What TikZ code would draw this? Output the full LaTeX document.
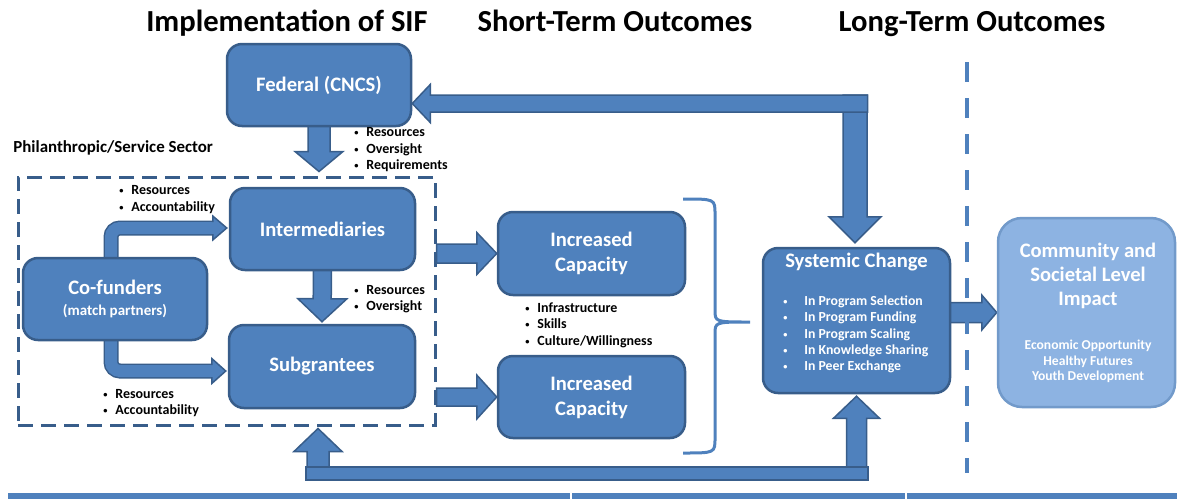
\documentclass[tikz,border=0pt]{standalone}
\usepackage{fontspec}
\setmainfont{Carlito}
\usetikzlibrary{calc,backgrounds}
\definecolor{bfill}{HTML}{4F81BD}
\definecolor{bdraw}{HTML}{385D8A}
\definecolor{cfill}{HTML}{8DB3E2}
\definecolor{cdraw}{HTML}{729ACA}
\newcommand\fsz[2]{\fontsize{#1}{#2}\selectfont}
\newcommand\smbul{\raisebox{0.15ex}{\scalebox{0.6}{\textbullet}}}
\newcommand\bl{\makebox[6pt][l]{\smbul}}
\newcommand\sbl{\makebox[10.5pt][l]{\smbul}}
% straight block arrow: #1 start, #2 tip, #3 shaft half width, #4 head half width, #5 head length
\newcommand\blockarr[5]{%
  \coordinate (hb) at ($(#2)!#5!(#1)$);
  \draw[blkarrow] ($(#1)!#3!90:(#2)$) -- ($(hb)!#3!-90:(#1)$) -- ($(hb)!#4!-90:(#1)$) -- (#2)
     -- ($(hb)!#4!90:(#1)$) -- ($(hb)!#3!90:(#1)$) -- ($(#1)!#3!-90:(#2)$) -- cycle;}
\begin{document}
\begin{tikzpicture}[x=0.5pt,y=-0.5pt,
  box/.style={draw=bdraw, fill=bfill, line width=1.25pt, rounded corners=7.5pt, inner sep=0pt,
    text=white, font=\bfseries\fsz{10.3}{12.5}, align=center},
  blkarrow/.style={draw=bdraw, fill=bfill, line width=0.75pt, line join=miter},
  bul/.style={inner sep=0pt, anchor=west, align=left, font=\bfseries\fsz{7}{8.25}},
  ttl/.style={font=\bfseries\fsz{15.3}{17}, anchor=base, inner sep=0pt},
  wtxt/.style={text=white, inner sep=0pt, align=center},
]
\useasboundingbox (0,0) rectangle (1177,499);

% titles
\node[ttl] (t1) at (287,31) {Implementation of SIF};
\node[ttl] (t2) at (615,31) {Short-Term Outcomes};
\node[ttl] (t3) at (972,31) {Long-Term Outcomes};
\node[font=\bfseries\fsz{8.45}{10}, anchor=west, inner sep=0pt] (phil) at (13,148) {Philanthropic/Service Sector};

% dashed sector box
\node[draw=bdraw, dash pattern=on 7.5pt off 4pt, line width=1.5pt, minimum width=208.5pt,
  minimum height=124pt, inner sep=0pt] (sector) at (226.5,301) {};

% boxes
\node[box, minimum width=92pt, minimum height=41pt] (fed) at (319,85) {Federal (CNCS)};
\node[box, minimum width=92.5pt, minimum height=41pt] (inter) at (322.5,229) {Intermediaries};
\node[box, minimum width=93pt, minimum height=41.5pt] (sub) at (322,366.5) {Subgrantees};
\node[box, minimum width=92pt, minimum height=41pt] (cof) at (115,299) {Co-funders\\[-2pt]{\fsz{7.5}{9}(match partners)}};
\node[box, minimum width=93.5pt, minimum height=41.5pt] (ic1) at (591.5,253.5) {Increased\\Capacity};
\node[box, minimum width=93.5pt, minimum height=41pt] (ic2) at (591.5,397) {Increased\\Capacity};
\node[box, minimum width=93.5pt, minimum height=72.5pt] (sys) at (856.5,320.5) {};
\node[wtxt, font=\bfseries\fsz{10.3}{12}] (sysT) at (856.5,262) {Systemic Change};
\node[bul, text=white, font=\bfseries\fsz{6.9}{8.1}] (sysL) at (783,334.5)
  {\sbl In Program Selection\\\sbl In Program Funding\\\sbl In Program Scaling\\\sbl In Knowledge Sharing\\\sbl In Peer Exchange};
\node[box, fill=cfill, draw=cdraw, rounded corners=12pt, minimum width=88.5pt, minimum height=94.5pt] (com) at (1086.5,312.5) {};
\node[wtxt, font=\bfseries\fsz{10.3}{12}] (comT) at (1088,276) {Community and\\Societal Level\\Impact};
\node[wtxt, font=\bfseries\fsz{6.8}{7.75}] (comS) at (1088,361.5) {Economic Opportunity\\Healthy Futures\\Youth Development};

% bullet lists
\node[bul] (fedB) at (354,150) {\bl Resources\\\bl Oversight\\\bl Requirements};
\node[bul] (cofB1) at (119,199.5) {\bl Resources\\\bl Accountability};
\node[bul] (cofB2) at (103,403) {\bl Resources\\\bl Accountability};
\node[bul] (intB) at (354,299) {\bl Resources\\\bl Oversight};
\node[bul] (icB) at (525,325) {\bl Infrastructure\\\bl Skills\\\bl Culture/Willingness};

\begin{scope}[on background layer]
  % Federal -> sector
  \coordinate (a1s) at ($(fed.south)+(0,-4)$);
  \coordinate (a1t) at ($(fed.south |- sector.north)+(0,-4)$);
  \blockarr{a1s}{a1t}{5.5pt}{12pt}{10pt}
  % Intermediaries -> Subgrantees
  \coordinate (a2s) at ($(inter.south)+(0,-4)$);
  \coordinate (a2t) at ($(sub.north)+(0,-2)$);
  \blockarr{a2s}{a2t}{4.5pt}{12.25pt}{11.5pt}
  % sector -> increased capacity
  \coordinate (a3s) at (sector.east |- ic1.west);
  \blockarr{a3s}{ic1.west}{4.75pt}{10.5pt}{10pt}
  \coordinate (a4s) at (sector.east |- ic2.west);
  \blockarr{a4s}{ic2.west}{4.5pt}{11pt}{10pt}
  % systemic -> community
  \coordinate (a5t) at (com.west);
  \coordinate (a5s) at ($(sys.east |- com.west)+(-6,0)$);
  \blockarr{a5s}{a5t}{5pt}{8.75pt}{7.5pt}
  % top elbow: to systemic change and to federal
  \coordinate (a6s) at (855,95);
  \coordinate (a6t) at ($(sys.north)+(-1.5,-4)$);
  \blockarr{a6s}{a6t}{6pt}{13pt}{13pt}
  \coordinate (a7s) at (867.5,103.5);
  \coordinate (a7t) at (fed.east |- a7s);
  \blockarr{a7s}{a7t}{4.25pt}{9.5pt}{9pt}
  % bottom feedback: to sector and to systemic change
  \coordinate (a8s) at (318,473);
  \coordinate (a8t) at ($(a8s |- sector.south)+(0,2)$);
  \blockarr{a8s}{a8t}{5.5pt}{12pt}{11.5pt}
  \coordinate (a9s) at (sys.south |- a8s);
  \coordinate (a9t) at ($(sys.south)+(0,2)$);
  \blockarr{a9s}{a9t}{5pt}{11.5pt}{11pt}
  \coordinate (b1) at (306,467);
  \coordinate (b2) at (868,480);
  \draw[blkarrow] (b1) rectangle (b2);
  % co-funder elbow arrows
  \coordinate (c1s) at (111,265);
  \coordinate (c1t) at ($(inter.west)+(-2,-1)$);
  \coordinate (c1b) at ($(c1t)+(-14,0)$);
  \draw[bdraw, line width=7.5pt, rounded corners=4.5pt] (c1s) |- (c1b);
  \draw[bfill, line width=6pt, rounded corners=4.5pt] (c1s) |- (c1b);
  \fill[bfill] ($(c1b)+(0,-12)$) -- (c1t) -- ($(c1b)+(0,12)$) -- cycle;
  \draw[bdraw, line width=0.75pt, line join=miter] ($(c1b)+(0,-6)$) -- ($(c1b)+(0,-12)$) -- (c1t) -- ($(c1b)+(0,12)$) -- ($(c1b)+(0,6)$);
  \coordinate (c2s) at (111,333);
  \coordinate (c2t) at ($(sub.west)+(-2,4.5)$);
  \coordinate (c2b) at ($(c2t)+(-14,0)$);
  \draw[bdraw, line width=7.5pt, rounded corners=4.5pt] (c2s) |- (c2b);
  \draw[bfill, line width=6pt, rounded corners=4.5pt] (c2s) |- (c2b);
  \fill[bfill] ($(c2b)+(0,-12.5)$) -- (c2t) -- ($(c2b)+(0,12.5)$) -- cycle;
  \draw[bdraw, line width=0.75pt, line join=miter] ($(c2b)+(0,-6)$) -- ($(c2b)+(0,-12.5)$) -- (c2t) -- ($(c2b)+(0,12.5)$) -- ($(c2b)+(0,6)$);
\end{scope}

% brace
\draw[bfill, line width=1.5pt] (683,199) .. controls (715,199) .. (715,214) -- (715,310)
  .. controls (715,322) .. (750,322) .. controls (715,322) .. (715,334) -- (715,438)
  .. controls (715,453) .. (683,453);

% vertical dashed divider
\draw[bfill, line width=2.2pt, dash pattern=on 10pt off 8pt] (967,62) -- (967,473);

% bottom band
\fill[bfill] (8,493) rectangle (1177,499);
\draw[white, line width=0.8pt] (571,493) -- (571,499) (906,493) -- (906,499);
\end{tikzpicture}
\end{document}
